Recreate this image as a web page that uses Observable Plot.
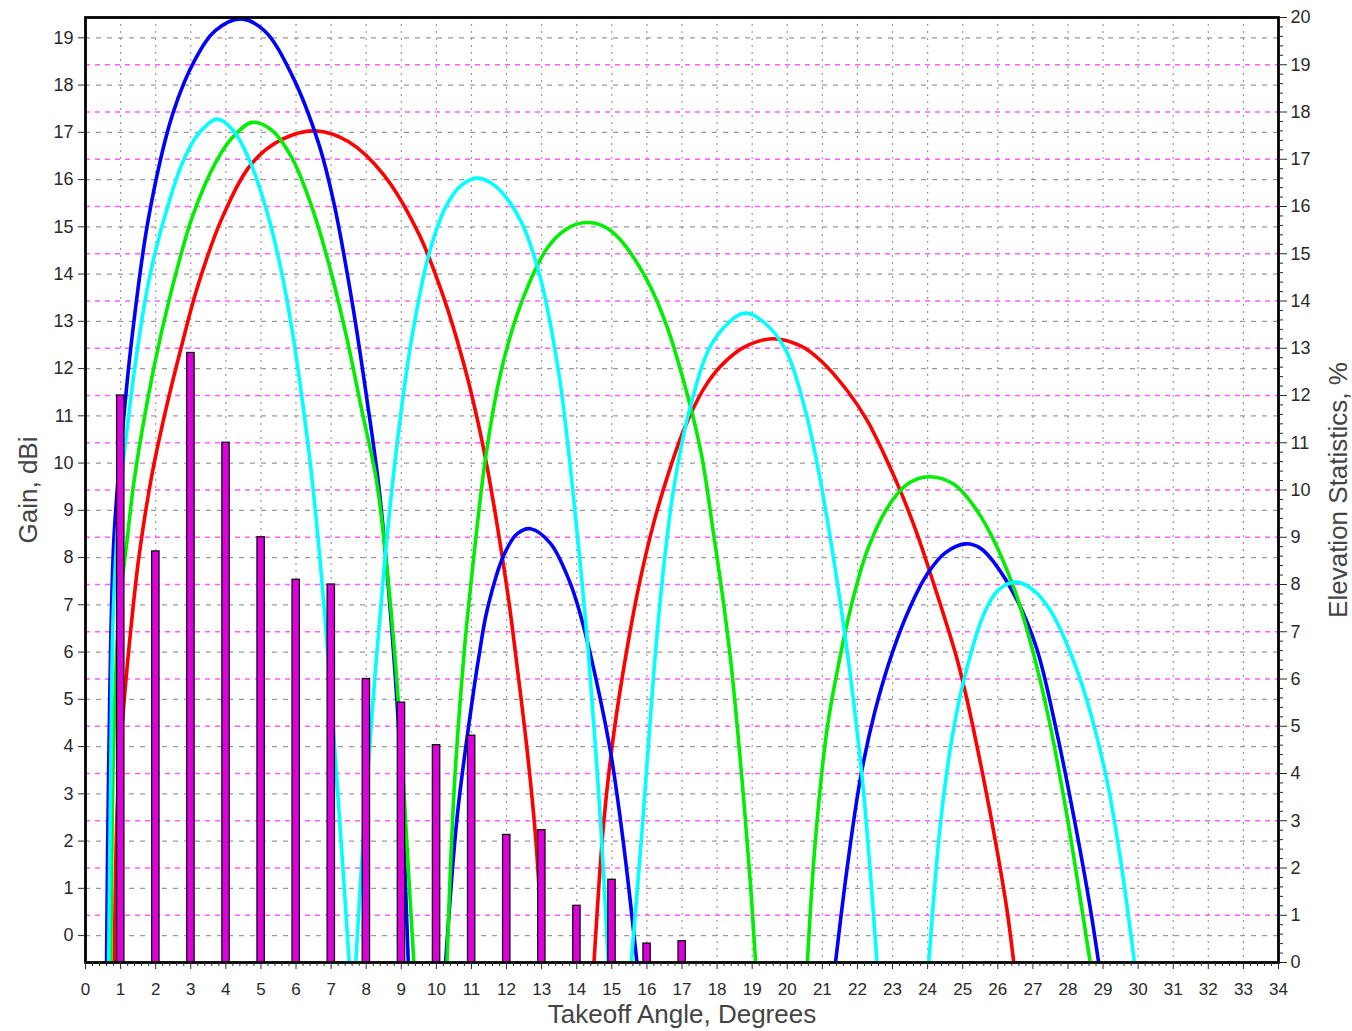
<!DOCTYPE html>
<html>
<head>
<meta charset="utf-8">
<script src="https://cdn.jsdelivr.net/npm/d3@7"></script>
<script src="https://cdn.jsdelivr.net/npm/@observablehq/plot@0.6"></script>
<style>
  html, body { margin: 0; padding: 0; background: #ffffff; }
</style>
</head>
<body>
<div id="chart"></div>
<script>
// ---------- Data ----------
// Elevation statistics bars: takeoff angle (deg) and share (%), right axis
const barAngles = [1, 2, 3, 4, 5, 6, 7, 8, 9, 10, 11, 12, 13, 14, 15, 16, 17];
const elevationPct = [12.0, 8.7, 12.9, 11.0, 9.0, 8.1, 8.0, 6.0, 5.5, 4.6, 4.8, 2.7, 2.8, 1.2, 1.75, 0.4, 0.45];

// Gain patterns: each series is a list of lobes, each lobe a list of [angle deg, gain dBi]
const redLobes = [
  [[0.82,-0.6],[0.9,2.6],[1.0,4.0],[1.14,5.3],[1.28,6.4],[1.52,8.0],[1.88,9.7],[2.28,11.1],[2.78,12.6],[3.18,13.7],[3.9,15.2],[4.75,16.35],[5.6,16.85],[6.55,17.03],[7.5,16.8],[8.5,16.1],[9.5,14.85],[10.21,13.5],[10.78,12.1],[11.16,10.95],[11.45,9.9],[11.73,8.7],[12.06,7.1],[12.3,5.7],[12.59,3.9],[12.82,2.15],[12.97,0.4],[13.02,-0.6]],
  [[14.49,-0.6],[14.77,2.4],[15.06,4.3],[15.44,6.1],[15.8,7.5],[16.2,8.75],[16.6,9.75],[17.05,10.7],[17.6,11.55],[18.1,12.05],[18.76,12.45],[19.57,12.63],[20.38,12.48],[20.95,12.17],[21.71,11.53],[22.28,10.9],[22.75,10.2],[23.23,9.4],[23.7,8.5],[24.15,7.5],[24.6,6.45],[24.84,5.85],[25.13,4.97],[25.6,3.3],[25.98,1.8],[26.27,0.5],[26.46,-0.6]]
];
const blueLobes = [
  [[0.6,-0.6],[0.66,3.5],[0.81,8.4],[1.07,10.8],[1.3,12.5],[1.8,15.2],[2.49,17.4],[3.13,18.55],[3.7,19.15],[4.42,19.4],[5.1,19.15],[5.89,18.2],[6.65,16.75],[7.08,15.5],[7.6,13.4],[8.03,11.3],[8.36,9.5],[8.64,7.3],[8.93,4.3],[9.2,-0.6]],
  [[10.26,-0.6],[10.59,2.5],[10.97,4.7],[11.21,5.9],[11.45,6.9],[11.92,8.05],[12.3,8.5],[12.68,8.61],[13.25,8.3],[13.82,7.45],[14.1,6.8],[14.39,5.95],[14.96,3.9],[15.34,1.9],[15.72,-0.6]],
  [[21.37,-0.6],[21.71,1.45],[22.09,3.35],[22.5,4.75],[23.0,6.0],[23.5,6.95],[23.99,7.65],[24.5,8.1],[25.08,8.29],[25.5,8.2],[25.89,7.9],[26.55,7.1],[27.12,6.05],[27.69,4.27],[28.17,2.5],[28.6,0.74],[28.88,-0.6]]
];
const greenLobes = [
  [[0.72,-0.6],[0.8,4.0],[0.95,6.8],[1.19,8.4],[1.38,9.6],[1.76,11.3],[2.1,12.55],[2.52,13.85],[3.04,15.2],[3.7,16.35],[4.2,16.9],[4.75,17.21],[5.3,17.05],[5.89,16.45],[6.46,15.4],[7.03,13.95],[7.46,12.6],[7.88,11.1],[8.3,9.6],[8.64,7.4],[8.93,4.8],[9.17,1.8],[9.36,-0.6]],
  [[10.3,-0.6],[10.5,3.0],[10.78,5.9],[10.95,7.2],[11.4,10.1],[11.83,11.9],[12.4,13.35],[13.16,14.55],[13.7,14.95],[14.25,15.09],[14.8,15.0],[15.25,14.72],[16.01,13.86],[16.58,12.87],[17.15,11.45],[17.55,10.2],[17.9,8.5],[18.19,7.0],[18.42,5.6],[18.71,3.3],[18.95,1.1],[19.1,-0.6]],
  [[20.57,-0.6],[20.8,2.0],[21.14,4.4],[21.56,6.1],[21.9,7.2],[22.28,8.15],[22.85,9.05],[23.42,9.55],[24.03,9.71],[24.75,9.55],[25.41,8.99],[25.98,8.22],[26.55,7.16],[27.02,5.96],[27.45,4.6],[27.98,2.5],[28.36,0.74],[28.64,-0.6]]
];
const cyanLobes = [
  [[0.66,-0.6],[0.72,3.5],[0.78,6.6],[0.9,8.5],[1.0,9.5],[1.23,11.0],[1.42,12.1],[1.69,13.4],[1.95,14.35],[2.33,15.4],[2.76,16.35],[3.2,16.95],[3.75,17.28],[4.2,17.05],[4.65,16.45],[5.18,15.3],[5.6,14.0],[5.89,12.8],[6.22,11.1],[6.48,9.5],[6.84,6.6],[7.2,2.9],[7.52,-0.6]],
  [[7.7,-0.6],[7.93,2.2],[8.26,5.6],[8.55,8.1],[8.8,9.9],[9.05,11.4],[9.31,12.7],[9.78,14.4],[10.26,15.41],[10.7,15.87],[11.16,16.03],[11.7,15.85],[12.4,15.13],[12.97,13.9],[13.49,11.9],[13.73,10.5],[13.96,8.9],[14.16,7.4],[14.34,5.9],[14.68,2.4],[14.9,-0.6]],
  [[15.55,-0.6],[15.86,2.2],[16.2,5.6],[16.45,7.6],[16.75,9.4],[17.24,11.2],[17.91,12.6],[18.76,13.17],[19.3,13.0],[19.95,12.4],[20.52,11.1],[20.9,9.8],[21.23,8.4],[21.56,6.8],[21.85,5.2],[22.18,3.0],[22.56,-0.6]],
  [[24.03,-0.6],[24.37,2.4],[24.7,4.2],[25.03,5.4],[25.6,6.8],[26.0,7.3],[26.5,7.48],[27.0,7.32],[27.5,6.88],[27.98,6.15],[28.55,4.95],[29.12,3.25],[29.5,1.6],[29.9,-0.6]]
];

// Axis ticks
const xTicks = d3.range(0, 35);           // 0..34 degrees
const gainTicks = d3.range(0, 20);        // 0..19 dBi (left)
const pctTicks = d3.range(0, 21);         // 0..20 % (right)
const gainDomain = [-0.57, 19.43];        // left axis extent
const pctDomain = [0, 20];                // right axis extent

// ---------- Derived tables ----------
const pctToGain = d3.scaleLinear().domain(pctDomain).range(gainDomain);
const bars = barAngles.map((a, i) => ({angle: a, pct: elevationPct[i]}));
function lobeRows(lobes) {
  const rows = [];
  lobes.forEach((lobe, k) => lobe.forEach(([angle, gain]) => rows.push({lobe: k, angle, gain})));
  return rows;
}
const minorX = d3.range(0, 34.0001, 0.2).filter(v => Math.abs(v - Math.round(v)) > 1e-6);
const minorPct = d3.range(0, 20.0001, 0.2).filter(v => Math.abs(v - Math.round(v)) > 1e-6);

const lineOpts = (color) => ({x: "angle", y: "gain", z: "lobe", stroke: color, strokeWidth: 3.6, curve: "catmull-rom", clip: true});

const chart = Plot.plot({
  width: 1352,
  height: 1031,
  marginLeft: 85,
  marginRight: 74,
  marginTop: 17,
  marginBottom: 69,
  style: {fontFamily: "'Liberation Sans', Arial, sans-serif", fontSize: "17px", color: "#2a2a2a", background: "#ffffff"},
  x: {domain: [0, 34]},
  y: {domain: gainDomain},
  marks: [
    // grid
    Plot.ruleX(xTicks.filter(d => d > 0 && d < 34), {stroke: "#9a9a9a", strokeDasharray: "2,5", strokeWidth: 1.2}),
    Plot.ruleY(gainTicks, {stroke: "#9a9a9a", strokeDasharray: "5,6", strokeWidth: 1.2}),
    Plot.ruleY(pctTicks.filter(d => d > 0 && d < 20), {y: d => pctToGain(d), stroke: "#ff5cff", strokeDasharray: "5,5", strokeWidth: 1.6}),
    // gain patterns
    Plot.line(lobeRows(redLobes), lineOpts("#ff0000")),
    Plot.line(lobeRows(blueLobes), lineOpts("#0000ff")),
    Plot.line(lobeRows(greenLobes), lineOpts("#00ee00")),
    Plot.line(lobeRows(cyanLobes), lineOpts("#00ffff")),
    // elevation statistics bars
    Plot.rect(bars, {
      x1: d => d.angle - 0.1, x2: d => d.angle + 0.11,
      y1: () => pctToGain(0), y2: d => pctToGain(d.pct),
      fill: "#dd00dd", stroke: "#111", strokeWidth: 1.3
    }),
    Plot.frame({stroke: "#000", strokeWidth: 2.8}),
    // axes
    Plot.axisX(xTicks, {tickSize: 7, tickPadding: 13, label: null, fontSize: 17}),
    Plot.axisX(minorX, {tickSize: 4, text: null, label: null}),
    Plot.axisY(gainTicks, {anchor: "left", tickSize: 7, tickPadding: 5, label: null, fontSize: 18}),
    Plot.axisY(pctTicks.map(p => pctToGain(p)), {
      anchor: "right", tickSize: 8, tickPadding: 4, label: null, fontSize: 18,
      tickFormat: d => String(Math.round(pctToGain.invert(d)))
    }),
    Plot.axisY(minorPct.map(p => pctToGain(p)), {anchor: "right", tickSize: 4, text: null, label: null}),
    // axis titles
    Plot.text(["Takeoff Angle, Degrees"], {frameAnchor: "bottom", dy: 60, fontSize: 26, fill: "#444", textAnchor: "middle"}),
    Plot.text(["Gain, dBi"], {frameAnchor: "left", dx: -57, rotate: -90, fontSize: 26, fill: "#444", textAnchor: "middle"}),
    Plot.text(["Elevation Statistics, %"], {frameAnchor: "right", dx: 60, rotate: -90, fontSize: 26, fill: "#444", textAnchor: "middle"})
  ]
});
document.getElementById("chart").appendChild(chart);
</script>
</body>
</html>
